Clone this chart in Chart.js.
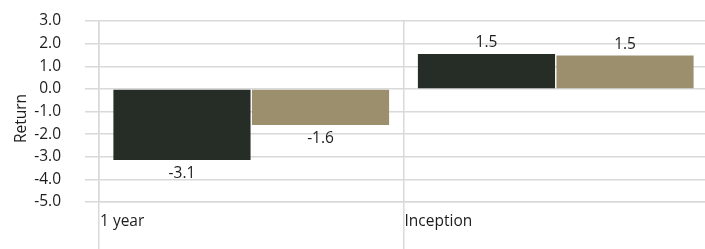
<!DOCTYPE html>
<html>
<head>
<meta charset="utf-8">
<script src="https://cdn.jsdelivr.net/npm/chart.js@4.4.1/dist/chart.umd.min.js"></script>
<style>
  html, body { margin: 0; padding: 0; background: #fff; overflow: hidden; }
  #wrap { width: 708px; height: 249px; }
</style>
</head>
<body>
<div id="wrap"><canvas id="chart"></canvas></div>
<script>
const categories = ['1 year', 'Inception']
const fundReturns = [-3.14, 1.54]
const benchmarkReturns = [-1.6, 1.47]
const yTicks = [-5, -4, -3, -2, -1, 0, 1, 2, 3]

const textColor = '#1c1c1c'
const gridColor = '#d9d9d9'
const font = { family: 'Open Sans', size: 15.5 }

const barLabels = {
  id: 'barLabels',
  afterDatasetsDraw(chart) {
    const ctx = chart.ctx
    ctx.save()
    ctx.font = `${font.size}px ${font.family}`
    ctx.fillStyle = textColor
    ctx.textAlign = 'center'
    ctx.textBaseline = 'middle'
    chart.data.datasets.forEach((ds, i) => {
      chart.getDatasetMeta(i).data.forEach((bar, j) => {
        const v = ds.data[j]
        ctx.fillText(v.toFixed(1), bar.x, v < 0 ? bar.y + 14 : bar.y - 11)
      })
    })
    ctx.restore()
  }
}

const categoryLabels = {
  id: 'categoryLabels',
  afterDraw(chart) {
    const { ctx, scales: { x } } = chart
    const half = x.width / categories.length / 2
    ctx.save()
    ctx.font = `${font.size}px ${font.family}`
    ctx.fillStyle = textColor
    ctx.textAlign = 'left'
    ctx.textBaseline = 'middle'
    categories.forEach((c, i) => ctx.fillText(c, x.getPixelForValue(i) - half + 1, 222))
    // axis title
    const area = chart.chartArea
    ctx.translate(22, (area.top + area.bottom) / 2 + 7)
    ctx.rotate(-Math.PI / 2)
    ctx.textAlign = 'center'
    ctx.fillText('Return', 0, 0)
    ctx.restore()
  }
}

new Chart(document.getElementById('chart'), {
  type: 'bar',
  data: {
    labels: categories,
    datasets: [
      { label: 'Fund', data: fundReturns, backgroundColor: '#262c26' },
      { label: 'Benchmark', data: benchmarkReturns, backgroundColor: '#9c8f6e' },
    ]
  },
  options: {
    responsive: true,
    maintainAspectRatio: false,
    animation: false,
    layout: { padding: { top: 21, right: 0, bottom: 0, left: 0 } },
    categoryPercentage: 0.91,
    barPercentage: 0.99,
    plugins: { legend: { display: false }, tooltip: { enabled: false } },
    scales: {
      x: {
        grid: { offset: true, color: gridColor, lineWidth: 1.5, drawTicks: true, tickLength: 47 },
        border: { color: gridColor, width: 1.5 },
        ticks: { display: false },
      },
      y: {
        min: -5,
        max: 3,
        afterBuildTicks: scale => { scale.ticks = yTicks.map(value => ({ value })) },
        afterFit: scale => {
          scale.width = 99
          scale.paddingTop = 0
          scale.paddingBottom = 0
        },
        grid: { color: gridColor, lineWidth: 1.5, tickLength: 14 },
        border: { color: gridColor, width: 1.5 },
        ticks: { font, color: textColor, padding: 24, callback: v => v.toFixed(1) },
      }
    }
  },
  plugins: [barLabels, categoryLabels]
})
</script>
</body>
</html>
